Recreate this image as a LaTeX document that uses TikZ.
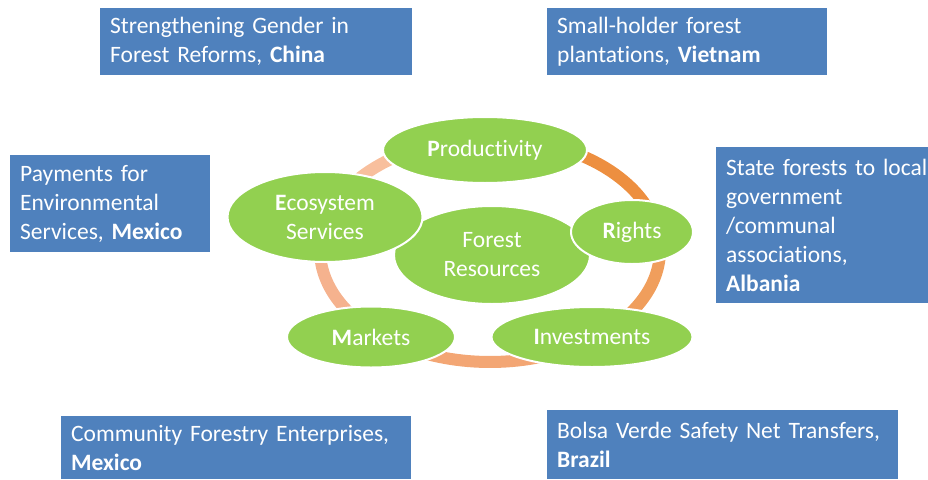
\documentclass[tikz,border=0pt]{standalone}
\usepackage{fontspec}
\setmainfont{Carlito}[Ligatures={NoCommon}]
\usepackage{tikz}
\usetikzlibrary{shapes.geometric}

\definecolor{boxblue}{HTML}{4F81BD}
\definecolor{leafgreen}{HTML}{92D050}
\definecolor{ringA}{HTML}{ED8F40}
\definecolor{ringB}{HTML}{F09E5C}
\definecolor{ringC}{HTML}{F3A674}
\definecolor{ringD}{HTML}{F5B28E}
\definecolor{ringE}{HTML}{F8BF9D}

\tikzset{
  casebox/.style={rectangle,fill=boxblue,text=white,anchor=north west,
    align=left,inner xsep=10pt,inner ysep=0pt,
    font=\fontsize{23.5}{29}\selectfont},
  petal/.style={ellipse,fill=leafgreen,draw=white,line width=2pt,text=white,
    inner sep=0pt,align=center,font=\fontsize{23.5}{29}\selectfont},
  ringpart/.style={line width=12pt,line cap=butt}
}

\begin{document}
\begin{tikzpicture}[x=1pt,y=-1pt]
\useasboundingbox (0,0) rectangle (928,479);

% ring behind the circles
\coordinate (ring) at (490,250);
\draw[ringpart,ringA] plot[domain=-92:-11,samples=40] ({490+170*cos(\x)},{250+112*sin(\x)});
\draw[ringpart,ringB] plot[domain=-11:52,samples=40] ({490+170*cos(\x)},{250+112*sin(\x)});
\draw[ringpart,ringC] plot[domain=52:132,samples=40] ({490+170*cos(\x)},{250+112*sin(\x)});
\draw[ringpart,ringD] plot[domain=132:197,samples=40] ({490+170*cos(\x)},{250+112*sin(\x)});
\draw[ringpart,ringE] plot[domain=197:268,samples=40] ({490+170*cos(\x)},{250+112*sin(\x)});

% circles
\node (forest) [petal,minimum width=196pt,minimum height=98pt] at (492,255) {Forest\\Resources};
\node (prod) [petal,minimum width=204pt,minimum height=66pt] at (485,150) {\textbf{P}roductivity};
\node (eco) [petal,minimum width=195pt,minimum height=90pt] at (325,217) {\textbf{E}cosystem\\Services};
\node (rights) [petal,minimum width=122pt,minimum height=64pt] at (632,232) {\textbf{R}ights};
\node (invest) [petal,minimum width=201pt,minimum height=60pt] at (592,337) {\textbf{I}nvestments};
\node (markets) [petal,minimum width=168pt,minimum height=61pt] at (371,337) {\textbf{M}arkets};

% case studies
\node (china) [casebox,text width=292pt,minimum height=67pt] at (100,8)
  {Strengthening Gender in\\Forest Reforms, \textbf{China}};
\node (vietnam) [casebox,text width=260pt,minimum height=67pt] at (547,8)
  {Small-holder forest\\plantations, \textbf{Vietnam}};
\node (pes) [casebox,text width=180pt,minimum height=97pt] at (10,155)
  {Payments for\\Environmental\\Services, \textbf{Mexico}};
\node (albania) [casebox,text width=202pt,minimum height=156pt] at (716,147)
  {State forests to local\\government\\/communal\\associations,\\\textbf{Albania}};
\node (cfe) [casebox,text width=330pt,minimum height=63pt] at (61,416)
  {Community Forestry Enterprises,\\\textbf{Mexico}};
\node (bolsa) [casebox,text width=331pt,minimum height=69pt] at (547,410)
  {Bolsa Verde Safety Net Transfers,\\\textbf{Brazil}};
\end{tikzpicture}
\end{document}
